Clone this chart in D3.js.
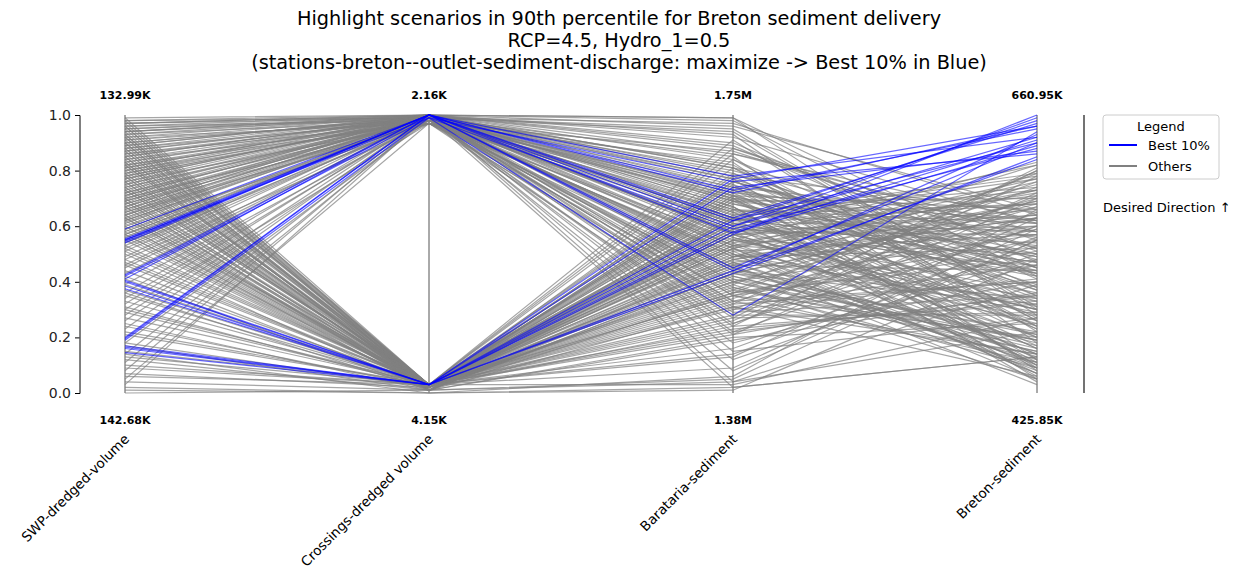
<!DOCTYPE html>
<html>
<head>
<meta charset="utf-8">
<script src="https://cdn.jsdelivr.net/npm/d3@7"></script>
<style>
  body { margin: 0; background: #fff; }
  text { font-family: "DejaVu Sans", sans-serif; }
</style>
</head>
<body>
<svg id="chart" width="1238" height="575"></svg>
<script>
// axis names and the real-unit range labels (top = best end, bottom = worst end)
var dims = ["SWP-dredged-volume", "Crossings-dredged volume", "Barataria-sediment", "Breton-sediment"];
var topLabels = ["132.99K", "2.16K", "1.75M", "660.95K"];
var bottomLabels = ["142.68K", "4.15K", "1.38M", "425.85K"];
var titleLines = [
    "Highlight scenarios in 90th percentile for Breton sediment delivery",
    "RCP=4.5, Hydro_1=0.5",
    "(stations-breton--outlet-sediment-discharge: maximize -> Best 10% in Blue)"
];
var yTicks = [0, 0.2, 0.4, 0.6, 0.8, 1.0];

// normalised scores per scenario: [swp, crossings, barataria, breton]
var best = [
    [0.59,1.00,0.78,0.92],[0.555,1.00,0.63,0.97],[0.55,0.99,0.59,0.88],[0.545,1.00,0.73,0.95],
    [0.54,1.00,0.45,0.90],[0.55,1.00,0.72,0.96],[0.425,1.00,0.60,0.99],[0.42,0.99,0.76,0.86],
    [0.41,1.00,0.44,0.93],[0.40,0.03,0.77,0.96],[0.405,0.03,0.62,0.90],[0.385,0.03,0.58,0.91],
    [0.375,0.03,0.43,0.85],[0.20,1.00,0.62,0.98],[0.195,1.00,0.575,0.89],[0.19,0.99,0.28,0.94],
    [0.17,0.03,0.74,0.87],[0.165,0.03,0.57,1.00],[0.16,0.03,0.60,0.92],[0.145,0.03,0.44,0.84]
];

var others = [
    [0.99,1.00,0.98,0.42],[0.98,0.99,0.95,0.31],[0.97,1.00,0.88,0.55],[0.96,0.98,0.71,0.12],
    [0.95,1.00,0.64,0.68],[0.94,0.99,0.52,0.25],[0.93,1.00,0.99,0.47],[0.92,0.97,0.83,0.08],
    [0.91,1.00,0.46,0.73],[0.90,0.99,0.37,0.19],[0.89,1.00,0.92,0.61],[0.88,0.98,0.58,0.36],
    [0.87,1.00,0.27,0.81],[0.86,0.99,0.75,0.05],[0.85,1.00,0.68,0.49],[0.84,0.97,0.41,0.22],
    [0.83,1.00,0.96,0.66],[0.82,0.99,0.33,0.14],[0.81,1.00,0.62,0.77],[0.80,0.98,0.50,0.29],
    [0.79,1.00,0.86,0.58],[0.78,0.99,0.21,0.40],[0.77,1.00,0.70,0.10],[0.76,0.97,0.55,0.83],
    [0.75,1.00,0.44,0.34],[0.74,0.99,0.80,0.52],[0.73,1.00,0.30,0.71],[0.72,0.98,0.66,0.17],
    [0.71,1.00,0.90,0.45],[0.70,0.99,0.48,0.63],[0.69,1.00,0.15,0.27],[0.68,0.97,0.73,0.56],
    [0.67,1.00,0.60,0.07],[0.66,0.99,0.39,0.79],[0.65,1.00,0.84,0.38],[0.64,0.98,0.53,0.21],
    [0.63,1.00,0.25,0.65],[0.62,0.99,0.77,0.43],[0.61,1.00,0.47,0.13],[0.60,0.97,0.65,0.74],
    [0.58,1.00,0.35,0.51],[0.57,0.99,0.94,0.30],[0.56,1.00,0.57,0.60],[0.53,0.98,0.42,0.16],
    [0.52,1.00,0.69,0.70],[0.51,0.99,0.18,0.46],[0.49,1.00,0.81,0.24],[0.48,0.97,0.51,0.57],
    [0.46,1.00,0.38,0.09],[0.45,0.99,0.63,0.78],[0.43,1.00,0.29,0.35],[0.39,0.98,0.74,0.62],
    [0.36,1.00,0.56,0.26],[0.34,0.99,0.12,0.50],[0.32,1.00,0.67,0.11],[0.30,0.97,0.45,0.69],
    [0.28,1.00,0.79,0.37],[0.26,0.99,0.33,0.59],[0.23,1.00,0.61,0.20],[0.18,0.98,0.49,0.75],
    [0.14,1.00,0.71,0.44],[0.11,0.99,0.40,0.15],[0.08,1.00,0.58,0.64],[0.05,0.97,0.24,0.32],
    [0.03,1.00,0.66,0.53],[0.98,1.00,0.99,0.28],[0.97,0.99,0.97,0.64],[0.96,1.00,0.93,0.18],
    [0.94,1.00,0.76,0.50],[0.93,0.98,0.59,0.82],[0.92,1.00,0.04,0.39],[0.90,0.99,0.02,0.13],
    [0.88,1.00,0.54,0.72],[0.86,0.97,0.31,0.06],[0.85,1.00,0.89,0.41],[0.83,0.99,0.72,0.23],
    [0.81,1.00,0.43,0.67],[0.79,0.98,0.63,0.33],[0.77,1.00,0.08,0.55],[0.75,0.99,0.85,0.12],
    [0.72,1.00,0.52,0.76],[0.70,0.97,0.36,0.48],[0.68,1.00,0.67,0.04],[0.66,0.99,0.22,0.60],
    [0.64,1.00,0.78,0.27],
    [0.97,1.00,0.81,0.35],[0.95,0.99,0.69,0.58],[0.94,1.00,0.35,0.20],[0.91,0.98,0.61,0.44],
    [0.89,1.00,0.77,0.09],[0.87,0.99,0.49,0.63],[0.84,1.00,0.57,0.30],[0.82,0.97,0.87,0.52],
    [0.80,1.00,0.40,0.70],[0.78,0.99,0.65,0.16],[0.76,1.00,0.53,0.46],[0.74,0.98,0.28,0.80],
    [0.71,1.00,0.74,0.34],[0.69,0.99,0.58,0.57],[0.67,1.00,0.45,0.11],[0.65,0.97,0.70,0.62],
    [0.62,1.00,0.32,0.40],[0.59,0.99,0.82,0.26],[0.57,1.00,0.62,0.73],[0.54,0.98,0.50,0.05],
    [0.99,0.03,0.55,0.34],[0.98,0.02,0.72,0.61],[0.97,0.03,0.38,0.15],[0.96,0.01,0.63,0.47],
    [0.95,0.03,0.21,0.70],[0.94,0.03,0.84,0.26],[0.93,0.02,0.47,0.09],[0.92,0.03,0.59,0.54],
    [0.91,0.03,0.32,0.80],[0.90,0.01,0.69,0.38],[0.89,0.03,0.44,0.19],[0.88,0.03,0.13,0.63],
    [0.87,0.02,0.76,0.45],[0.86,0.03,0.51,0.07],[0.85,0.03,0.26,0.72],[0.84,0.01,0.65,0.31],
    [0.83,0.03,0.40,0.57],[0.82,0.03,0.91,0.22],[0.81,0.02,0.57,0.66],[0.80,0.03,0.35,0.11],
    [0.79,0.03,0.70,0.49],[0.78,0.01,0.19,0.36],[0.77,0.03,0.53,0.77],[0.76,0.03,0.46,0.03],
    [0.75,0.02,0.81,0.58],[0.74,0.03,0.28,0.28],[0.73,0.03,0.61,0.68],[0.72,0.01,0.42,0.17],
    [0.71,0.03,0.74,0.42],[0.70,0.03,0.09,0.59],[0.69,0.02,0.56,0.24],[0.68,0.03,0.37,0.74],
    [0.67,0.03,0.67,0.10],[0.66,0.01,0.49,0.52],[0.65,0.03,0.23,0.33],[0.64,0.03,0.78,0.65],
    [0.63,0.02,0.54,0.14],[0.62,0.03,0.31,0.46],[0.61,0.03,0.64,0.79],[0.60,0.01,0.43,0.21],
    [0.58,0.03,0.16,0.56],[0.57,0.03,0.71,0.37],[0.56,0.02,0.50,0.08],[0.53,0.03,0.34,0.67],
    [0.52,0.03,0.60,0.43],[0.50,0.01,0.45,0.18],[0.48,0.03,0.86,0.62],[0.47,0.03,0.27,0.29],
    [0.44,0.02,0.58,0.71],[0.42,0.03,0.39,0.05],[0.39,0.03,0.66,0.50],[0.36,0.01,0.20,0.25],
    [0.35,0.03,0.53,0.64],[0.33,0.03,0.75,0.35],[0.31,0.02,0.41,0.12],[0.29,0.03,0.62,0.58],
    [0.27,0.03,0.30,0.41],[0.25,0.01,0.48,0.69],[0.22,0.03,0.70,0.20],[0.21,0.03,0.14,0.53],
    [0.18,0.02,0.55,0.30],[0.15,0.03,0.36,0.76],[0.13,0.03,0.64,0.16],[0.12,0.01,0.46,0.44],
    [0.10,0.03,0.25,0.60],[0.09,0.03,0.58,0.09],[0.07,0.02,0.73,0.39],[0.06,0.03,0.03,0.27],
    [0.04,0.01,0.05,0.55],[0.02,0.00,0.02,0.13],[0.01,0.00,0.06,0.66],[0.00,0.01,0.43,0.32],
    [0.14,0.00,0.01,0.48],[0.17,0.01,0.04,0.22],[0.92,0.03,0.88,0.51],[0.87,0.03,0.63,0.06],
    [0.83,0.02,0.52,0.73],[0.78,0.03,0.33,0.40],[0.74,0.03,0.69,0.23],[0.69,0.01,0.47,0.60],
    [0.63,0.03,0.22,0.35],[0.59,0.03,0.57,0.14],[0.55,0.02,0.76,0.48],
    [0.96,0.03,0.61,0.42],[0.93,0.03,0.43,0.68],[0.90,0.02,0.73,0.24],[0.88,0.03,0.55,0.50],
    [0.85,0.01,0.31,0.14],[0.82,0.03,0.66,0.61],[0.79,0.03,0.48,0.33],[0.76,0.02,0.24,0.78],
    [0.73,0.03,0.79,0.45],[0.70,0.03,0.52,0.10],[0.67,0.01,0.36,0.55],[0.64,0.03,0.59,0.30],
    [0.60,0.03,0.71,0.66],[0.57,0.02,0.40,0.19],[0.51,0.03,0.63,0.47],[0.46,0.03,0.49,0.82],
    [0.41,0.01,0.57,0.28],[0.37,0.03,0.35,0.63],[0.30,0.03,0.68,0.43],[0.24,0.02,0.52,0.07]
];

var svg = d3.select("#chart");

var x = d3.scalePoint()
    .domain(d3.range(dims.length))
    .range([125, 1037]);

var y = d3.scaleLinear()
    .domain([0, 1])
    .range([393, 115]);

var line = d3.line()
    .x(function(d, i) { return x(i); })
    .y(function(d) { return y(d); });

// title
svg.append("g").selectAll("text")
    .data(titleLines)
    .enter().append("text")
    .attr("x", 619)
    .attr("y", function(d, i) { return 25 + i * 22; })
    .attr("text-anchor", "middle")
    .style("font-size", "19.3px")
    .text(function(d) { return d; });

// vertical axis lines for each dimension
svg.append("g").selectAll("line")
    .data(dims)
    .enter().append("line")
    .attr("x1", function(d, i) { return x(i); })
    .attr("x2", function(d, i) { return x(i); })
    .attr("y1", y(1))
    .attr("y2", y(0))
    .attr("stroke", "#555")
    .attr("stroke-width", 1);

// others then best on top
svg.append("g").selectAll("path")
    .data(others)
    .enter().append("path")
    .attr("d", line)
    .attr("fill", "none")
    .attr("stroke", "#808080")
    .attr("stroke-opacity", 0.7)
    .attr("stroke-width", 1.2);

svg.append("g").selectAll("path")
    .data(best)
    .enter().append("path")
    .attr("d", line)
    .attr("fill", "none")
    .attr("stroke", "#0000ff")
    .attr("stroke-opacity", 0.6)
    .attr("stroke-width", 1.2);

// left 0-1 axis
var yAxis = d3.axisLeft(y)
    .tickValues(yTicks)
    .tickFormat(d3.format(".1f"))
    .tickSize(4.5)
    .tickPadding(4);

var ag = svg.append("g")
    .attr("transform", "translate(79.5,0)")
    .call(yAxis);
ag.select(".domain").attr("stroke", "#000").attr("stroke-width", 1);
ag.selectAll("text").style("font-size", "14px").style("font-family", "DejaVu Sans").attr("fill", "#222");

// range labels above and below the axes
svg.append("g").selectAll("text")
    .data(topLabels)
    .enter().append("text")
    .attr("x", function(d, i) { return x(i); })
    .attr("y", 99)
    .attr("text-anchor", "middle")
    .style("font-size", "11px")
    .style("font-weight", "bold")
    .text(function(d) { return d; });

svg.append("g").selectAll("text")
    .data(bottomLabels)
    .enter().append("text")
    .attr("x", function(d, i) { return x(i); })
    .attr("y", 424)
    .attr("text-anchor", "middle")
    .style("font-size", "11px")
    .style("font-weight", "bold")
    .text(function(d) { return d; });

// rotated dimension names
svg.append("g").selectAll("text")
    .data(dims)
    .enter().append("text")
    .attr("transform", function(d, i) { return "translate(" + (x(i) + 5) + ",440) rotate(-45)"; })
    .attr("text-anchor", "end")
    .style("font-size", "13.5px")
    .text(function(d) { return d; });

// direction bar on the right
svg.append("line")
    .attr("x1", 1084).attr("x2", 1084)
    .attr("y1", y(1)).attr("y2", y(0))
    .attr("stroke", "#444")
    .attr("stroke-width", 1.5);

// legend
var legend = svg.append("g").attr("transform", "translate(1103,115)");
legend.append("rect")
    .attr("width", 116).attr("height", 64)
    .attr("rx", 3)
    .attr("fill", "#fff")
    .attr("stroke", "#ccc");
legend.append("text")
    .attr("x", 58).attr("y", 16)
    .attr("text-anchor", "middle")
    .style("font-size", "13px")
    .text("Legend");
var items = [["Best 10%", "#0000ff"], ["Others", "#808080"]];
items.forEach(function(it, i) {
    legend.append("line")
        .attr("x1", 6).attr("x2", 34)
        .attr("y1", 30 + i * 21).attr("y2", 30 + i * 21)
        .attr("stroke", it[1])
        .attr("stroke-width", 2);
    legend.append("text")
        .attr("x", 45).attr("y", 35 + i * 21)
        .style("font-size", "13px")
        .text(it[0]);
});

svg.append("text")
    .attr("x", 1103).attr("y", 212)
    .style("font-size", "13px")
    .text("Desired Direction \u2191");
</script>
</body>
</html>
